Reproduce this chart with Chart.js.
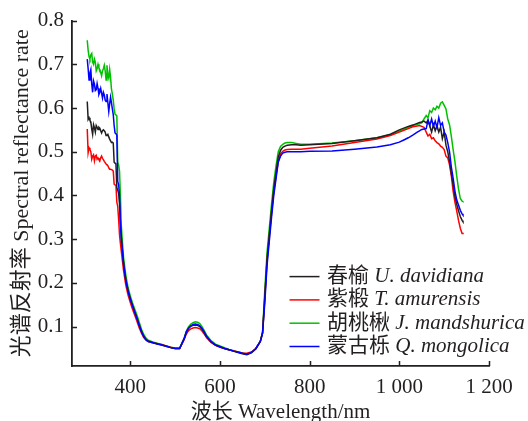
<!DOCTYPE html>
<html>
<head>
<meta charset="utf-8">
<script src="https://cdn.jsdelivr.net/npm/chart.js@4.4.0/dist/chart.umd.min.js"></script>
<style>
  html, body { margin: 0; padding: 0; background: #fff; }
  canvas { display: block; }
</style>
</head>
<body>
<canvas id="spectrum" width="528" height="421"></canvas>
<script>
// wavelength, nm
var wavelengths = [
  304, 306, 308, 310, 312, 314, 316, 318, 320, 322,
  324, 326, 328, 330, 332, 334, 336, 338, 340, 342,
  344, 346, 348, 350, 352, 354, 356, 358, 360, 362,
  364, 366, 368, 370, 372, 374, 376,
  378, 380, 385, 390, 395, 400, 405, 410, 415, 420,
  425, 430, 435, 440, 450, 460, 470, 480, 490, 500, 510,
  520, 525, 530, 535, 540, 545, 550, 555, 560, 565, 570, 580,
  590, 600, 610, 620, 630, 640, 650, 660, 670, 680, 690, 695,
  700, 705, 710, 715, 720, 725, 730, 735, 740, 745, 750, 760, 770, 780,
  800, 850, 900, 950, 980, 1000, 1010, 1020, 1030, 1040, 1045, 1050, 1055,
  1060, 1064, 1068, 1072, 1076, 1080, 1084, 1088, 1092, 1096, 1100,
  1104, 1108, 1112, 1116, 1120, 1124, 1128, 1132, 1136, 1140, 1142
];

// 春榆
var uDavidiana = [
  0.615, 0.574, 0.578, 0.572, 0.568, 0.552, 0.540, 0.562, 0.555, 0.545,
  0.560, 0.556, 0.551, 0.556, 0.554, 0.548, 0.543, 0.548, 0.550, 0.548,
  0.545, 0.537, 0.538, 0.540, 0.534, 0.529, 0.525, 0.521, 0.522, 0.520,
  0.476, 0.474, 0.472, 0.418, 0.412, 0.405, 0.380,
  0.340, 0.304, 0.246, 0.208, 0.183, 0.165, 0.149, 0.134, 0.120, 0.104,
  0.090, 0.078, 0.071, 0.067, 0.064, 0.061, 0.058, 0.055, 0.052, 0.050, 0.050,
  0.072, 0.087, 0.096, 0.101, 0.103, 0.104, 0.103, 0.100, 0.094, 0.086, 0.077, 0.065,
  0.058, 0.054, 0.050, 0.047, 0.044, 0.041, 0.038, 0.036, 0.040, 0.049, 0.066, 0.086,
  0.170, 0.255, 0.310, 0.365, 0.415, 0.453, 0.488, 0.503, 0.510, 0.513, 0.515, 0.516, 0.516, 0.515,
  0.516, 0.519, 0.525, 0.532, 0.540, 0.550, 0.554, 0.558, 0.561, 0.565, 0.567, 0.568, 0.570,
  0.566, 0.572, 0.559, 0.545, 0.562, 0.548, 0.560, 0.545, 0.556, 0.530, 0.545,
  0.515, 0.500, 0.478, 0.450, 0.425, 0.398, 0.380, 0.365, 0.352, 0.343, 0.340
];

// 紫椴
var tAmurensis = [
  0.552, 0.498, 0.509, 0.505, 0.500, 0.483, 0.490, 0.493, 0.479, 0.490,
  0.492, 0.483, 0.486, 0.482, 0.479, 0.486, 0.490, 0.485, 0.482, 0.478,
  0.475, 0.472, 0.470, 0.468, 0.463, 0.460, 0.460, 0.459, 0.458, 0.456,
  0.426, 0.424, 0.423, 0.385, 0.375, 0.345, 0.310,
  0.290, 0.272, 0.228, 0.195, 0.172, 0.155, 0.140, 0.126, 0.112, 0.097,
  0.085, 0.075, 0.069, 0.066, 0.063, 0.061, 0.059, 0.056, 0.053, 0.050, 0.050,
  0.070, 0.083, 0.091, 0.095, 0.097, 0.098, 0.097, 0.095, 0.090, 0.083, 0.075, 0.064,
  0.057, 0.053, 0.050, 0.047, 0.045, 0.042, 0.040, 0.039, 0.042, 0.050, 0.066, 0.085,
  0.165, 0.250, 0.305, 0.358, 0.408, 0.445, 0.478, 0.495, 0.501, 0.504, 0.505, 0.506, 0.506, 0.506,
  0.508, 0.513, 0.521, 0.529, 0.537, 0.545, 0.549, 0.553, 0.557, 0.559, 0.560, 0.558, 0.556,
  0.545, 0.536, 0.540, 0.530, 0.532, 0.525, 0.521, 0.518, 0.513, 0.510, 0.505,
  0.490, 0.486, 0.470, 0.445, 0.410, 0.385, 0.365, 0.343, 0.325, 0.313, 0.315
];

// 胡桃楸
var jMandshurica = [
  0.755, 0.732, 0.718, 0.712, 0.722, 0.725, 0.705, 0.700, 0.712, 0.705,
  0.685, 0.690, 0.700, 0.692, 0.688, 0.682, 0.674, 0.685, 0.690, 0.698,
  0.685, 0.664, 0.698, 0.675, 0.668, 0.688, 0.670, 0.643, 0.632, 0.618,
  0.598, 0.586, 0.584, 0.582, 0.476, 0.470, 0.455,
  0.400, 0.330, 0.258, 0.218, 0.190, 0.170, 0.154, 0.140, 0.126, 0.110,
  0.094, 0.082, 0.074, 0.069, 0.065, 0.062, 0.059, 0.056, 0.053, 0.051, 0.051,
  0.074, 0.090, 0.100, 0.106, 0.109, 0.111, 0.110, 0.107, 0.100, 0.091, 0.081, 0.068,
  0.060, 0.056, 0.052, 0.048, 0.045, 0.042, 0.040, 0.037, 0.041, 0.050, 0.067, 0.088,
  0.185, 0.270, 0.325, 0.380, 0.430, 0.468, 0.500, 0.512, 0.517, 0.520, 0.521, 0.521, 0.519, 0.517,
  0.517, 0.520, 0.525, 0.532, 0.539, 0.547, 0.551, 0.556, 0.560, 0.563, 0.564, 0.566, 0.575,
  0.583, 0.578, 0.594, 0.590, 0.600, 0.596, 0.604, 0.600, 0.611, 0.614, 0.606,
  0.598, 0.575, 0.562, 0.535, 0.505, 0.478, 0.445, 0.415, 0.393, 0.387, 0.386
];

// 蒙古栎
var qMongolica = [
  0.712, 0.690, 0.664, 0.680, 0.688, 0.655, 0.636, 0.662, 0.655, 0.640,
  0.642, 0.656, 0.645, 0.631, 0.636, 0.645, 0.634, 0.623, 0.636, 0.630,
  0.618, 0.615, 0.632, 0.612, 0.592, 0.610, 0.625, 0.612, 0.598, 0.585,
  0.560, 0.543, 0.541, 0.538, 0.432, 0.425, 0.400,
  0.335, 0.300, 0.242, 0.205, 0.180, 0.162, 0.147, 0.132, 0.118, 0.102,
  0.088, 0.077, 0.070, 0.066, 0.063, 0.060, 0.058, 0.055, 0.052, 0.050, 0.050,
  0.072, 0.088, 0.097, 0.102, 0.105, 0.106, 0.105, 0.102, 0.096, 0.088, 0.078, 0.066,
  0.058, 0.054, 0.050, 0.047, 0.044, 0.042, 0.039, 0.037, 0.041, 0.050, 0.066, 0.085,
  0.155, 0.240, 0.295, 0.350, 0.400, 0.438, 0.476, 0.490, 0.497, 0.499, 0.500, 0.500, 0.500, 0.500,
  0.501, 0.502, 0.506, 0.511, 0.516, 0.522, 0.527, 0.532, 0.538, 0.545, 0.548, 0.551, 0.552,
  0.553, 0.572, 0.560, 0.575, 0.558, 0.570, 0.555, 0.578, 0.560, 0.566, 0.545,
  0.538, 0.521, 0.500, 0.465, 0.440, 0.410, 0.390, 0.378, 0.366, 0.358, 0.355
];

var speciesCn = ['春榆', '紫椴', '胡桃楸', '蒙古栎'];
var speciesLatin = ['U. davidiana', 'T. amurensis', 'J. mandshurica', 'Q. mongolica'];
var seriesColors = ['#231f20', '#ff0000', '#00c000', '#0000ff'];
var seriesOrder = [1, 2, 3, 0]; // blue drawn on top

var xTicks = [400, 600, 800, 1000, 1200];
var xTickLabels = ['400', '600', '800', '1 000', '1 200'];
var yTicks = [0.1, 0.2, 0.3, 0.4, 0.5, 0.6, 0.7, 0.8];
var yTickLabels = ['0.1', '0.2', '0.3', '0.4', '0.5', '0.6', '0.7', '0.8'];

var axisColor = '#231f20';
var serif = "'Liberation Serif', 'Noto Sans CJK SC', serif";

function points(vals) {
  return wavelengths.map(function(w, i) { return {x: w, y: vals[i]}; });
}

var allSeries = [uDavidiana, tAmurensis, jMandshurica, qMongolica];
var datasets = allSeries.map(function(vals, i) {
  return {
    label: speciesCn[i] + ' ' + speciesLatin[i],
    data: points(vals),
    borderColor: seriesColors[i],
    borderWidth: 1.5,
    pointRadius: 0,
    fill: false,
    tension: 0,
    order: seriesOrder[i]
  };
});

// ticks point into the plot
var innerTicks = {
  id: 'innerTicks',
  afterDraw: function(chart) {
    var ctx = chart.ctx, a = chart.chartArea;
    var xs = chart.scales.x, ys = chart.scales.y;
    ctx.save();
    ctx.strokeStyle = axisColor;
    ctx.lineWidth = 1.5;
    ctx.beginPath();
    xTicks.forEach(function(v) {
      var px = Math.round(xs.getPixelForValue(v)) + 0.5;
      ctx.moveTo(px, a.bottom);
      ctx.lineTo(px, a.bottom - 5);
    });
    yTicks.forEach(function(v) {
      var py = Math.round(ys.getPixelForValue(v)) + 0.5;
      ctx.moveTo(a.left, py);
      ctx.lineTo(a.left + 5, py);
    });
    ctx.stroke();
    ctx.restore();
  }
};

// legend with italic latin names
var speciesLegend = {
  id: 'speciesLegend',
  afterDraw: function(chart) {
    var ctx = chart.ctx, a = chart.chartArea;
    var x0 = a.left + 217.5, y0 = a.top + 256, step = 23.3;
    ctx.save();
    ctx.textBaseline = 'middle';
    ctx.fillStyle = axisColor;
    chart.data.datasets.forEach(function(ds, i) {
      var y = y0 + i * step;
      ctx.strokeStyle = ds.borderColor;
      ctx.lineWidth = 1.5;
      ctx.beginPath();
      ctx.moveTo(x0, y);
      ctx.lineTo(x0 + 30, y);
      ctx.stroke();
      var tx = x0 + 37.5;
      ctx.font = '21px ' + serif;
      ctx.fillText(speciesCn[i], tx, y);
      tx += ctx.measureText(speciesCn[i] + ' ').width;
      ctx.font = "italic 21px 'Liberation Serif', serif";
      ctx.fillText(speciesLatin[i], tx, y);
    });
    ctx.restore();
  }
};

new Chart(document.getElementById('spectrum'), {
  type: 'line',
  data: { datasets: datasets },
  plugins: [innerTicks, speciesLegend],
  options: {
    responsive: false,
    animation: false,
    layout: { padding: { left: 0, top: 17, right: 39, bottom: 0 } },
    plugins: { legend: { display: false }, tooltip: { enabled: false } },
    scales: {
      x: {
        type: 'linear',
        min: 270,
        max: 1200,
        afterBuildTicks: function(s) { s.ticks = xTicks.map(function(v) { return {value: v}; }); },
        afterFit: function(s) { s.height = 55; },
        grid: { display: false, drawTicks: false },
        border: { color: axisColor, width: 1.8 },
        ticks: {
          autoSkip: false, maxRotation: 0, padding: 9,
          color: axisColor,
          font: { family: 'Liberation Serif', size: 21 },
          callback: function(v, i) { return xTickLabels[i]; }
        },
        title: {
          display: true, text: '波长 Wavelength/nm', color: axisColor,
          font: { family: serif, size: 21, lineHeight: 1 },
          padding: { top: 0, bottom: -2 }
        }
      },
      y: {
        min: 0.01,
        max: 0.8,
        afterBuildTicks: function(s) { s.ticks = yTicks.map(function(v) { return {value: v}; }); },
        afterFit: function(s) { s.width = 72; },
        grid: { display: false, drawTicks: false },
        border: { color: axisColor, width: 1.8 },
        ticks: {
          autoSkip: false, padding: 8,
          color: axisColor,
          font: { family: 'Liberation Serif', size: 21 },
          callback: function(v, i) { return yTickLabels[i]; }
        },
        title: {
          display: true, text: '光谱反射率 Spectral reflectance rate', color: axisColor,
          font: { family: serif, size: 22, lineHeight: 1 },
          padding: { top: 11, bottom: 0 }
        }
      }
    }
  }
});
</script>
</body>
</html>
